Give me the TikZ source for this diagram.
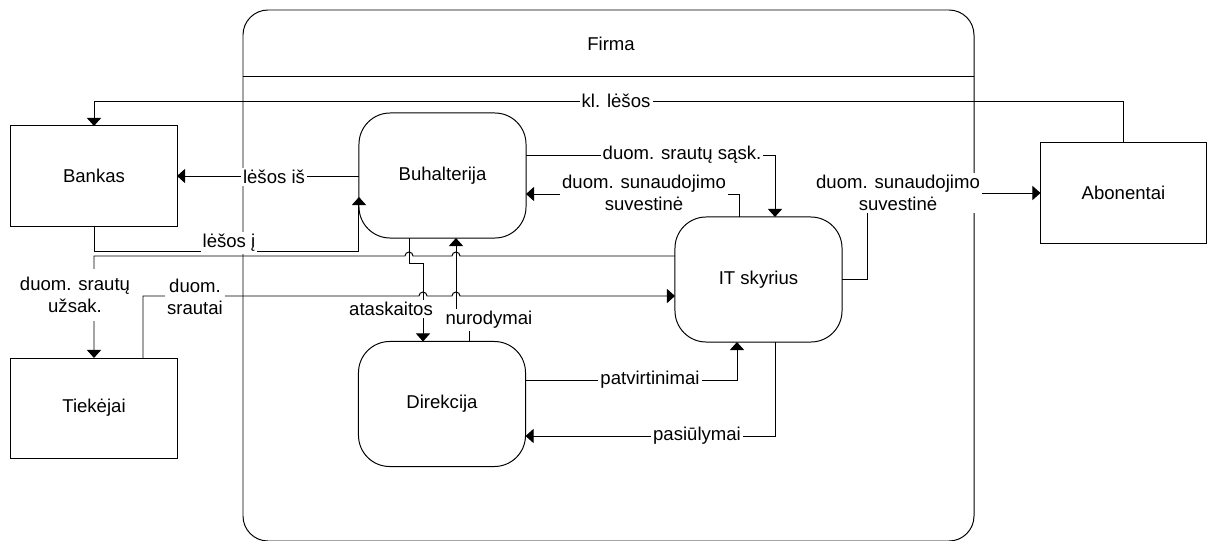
\documentclass[tikz,border=0pt]{standalone}
\usepackage{fontspec}
\setmainfont{Liberation Sans}
\usetikzlibrary{arrows.meta,calc}
\begin{document}
\begin{tikzpicture}[x=0.025cm,y=-0.025cm,
  every node/.style={font=\fontsize{13.2pt}{15.8pt}\selectfont},
  line/.style={draw=black,line width=0.7pt},
  arr/.style={line,-{Triangle[length=5.7pt,width=10pt]}},
  ext/.style={line,rectangle,minimum width=4.15cm,minimum height=2.5cm,
    inner sep=0pt,outer sep=0pt,fill=white},
  proc/.style={line,rectangle,rounded corners=0.78cm,minimum width=4.175cm,
    minimum height=3.125cm,inner sep=0pt,outer sep=0pt,fill=white},
  lbl/.style={fill=white,inner xsep=1.5pt,inner ysep=1.5pt,align=center},
]
\useasboundingbox (0,0) rectangle (1210,540);

% firm boundary with its title bar (bottom edge runs just past the page)
\begin{scope}
\clip (0,0) rectangle (1210,540);
\draw[line,rounded corners=0.625cm] (243,10) rectangle (974,541);
\end{scope}
\coordinate (hdl) at (243,76);
\coordinate (hdr) at (974,76);
\draw[line] (hdl) -- (hdr);
\node (firma) at (611,44) {Firma};

% external entities
\node[ext] (bank) at (94,176) {Bankas};
\node[ext] (tiek) at (94,408) {Tiekėjai};
\node[ext] (abon) at (1123.5,193) {Abonentai};

% processes
\node[proc] (buh) at (442.5,175.5) {Buhalterija};
\node[proc] (it) at (758.5,279.5) {IT skyrius};
\node[proc] (dir) at (442,404) {Direkcija};

% helper levels for the long runs
\coordinate (ykl) at (0,101);
\coordinate (ylj) at (0,251);
\coordinate (yuz) at (0,256);

% flows
\draw[arr] (abon.north) -- (abon.north |- ykl) -| (bank.north);
\draw[arr] (buh.west |- bank.east) -- (bank.east);
\draw[arr] (bank.south) -- (bank.south |- ylj) -| ($(buh.west)+(0,21.5)$);
\draw[arr] ($(it.west)+(0,-23.5)$) -- (460,256)
  arc[start angle=0,end angle=180,radius=0.1cm] -- (413,256)
  arc[start angle=0,end angle=180,radius=0.1cm] -- (tiek.north |- yuz) -- (tiek.north);
\draw[arr] ($(tiek.north)+(49,0)$) -- ($(tiek.north)+(49,-62)$) -- (419,296)
  arc[start angle=180,end angle=0,radius=0.1cm] -- (452,296)
  arc[start angle=180,end angle=0,radius=0.1cm] -- ($(it.west)+(0,16.5)$);
\draw[arr] ($(buh.south)+(-33.5,0)$) -- ++(0,25) -| ($(dir.north)+(-19,0)$);
\draw[arr] ($(dir.north)+(27,0)$) -- ++(0,-27) -| ($(buh.south)+(13.5,0)$);
\draw[arr] ($(buh.east)+(0,-20.5)$) -| ($(it.north)+(16.5,0)$);
\draw[arr] ($(it.north)+(-19.5,0)$) |- ($(buh.east)+(0,18.5)$);
\draw[arr] (it.east) -- ++(25,0) |- (abon.west);
\draw[arr] ($(dir.east)+(0,-24)$) -| ($(it.south)+(-21.5,0)$);
\draw[arr] ($(it.south)+(16.5,0)$) |- ($(dir.east)+(0,32)$);

% flow labels
\node[lbl] (l1) at (616,101) {kl. lėšos};
\node[lbl] (l2) at (274,177) {lėšos iš};
\node[lbl] (l3) at (229,243) {lėšos į};
\node[lbl,inner ysep=6pt] (l4) at (75,295) {duom. srautų\\užsak.};
\node[lbl] (l5) at (195,297) {duom.\\srautai};
\node[lbl] (l6) at (391,309) {ataskaitos};
\node[lbl] (l7) at (489,320) {nurodymai};
\node[lbl] (l8) at (682,155) {duom. srautų sąsk.};
\node[lbl] (l9) at (644,193) {duom. sunaudojimo\\suvestinė};
\node[lbl] (l10) at (898,193) {duom. sunaudojimo\\suvestinė};
\node[lbl] (l11) at (650,380) {patvirtinimai};
\node[lbl] (l12) at (697,436) {pasiūlymai};
\end{tikzpicture}
\end{document}
